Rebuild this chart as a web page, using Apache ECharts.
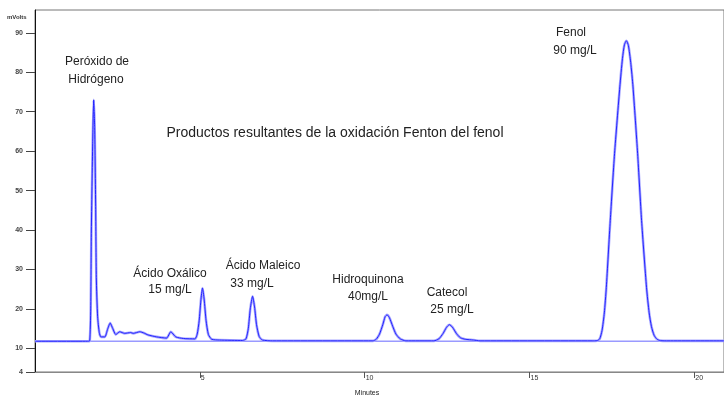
<!DOCTYPE html>
<html>
<head>
<meta charset="utf-8">
<script src="https://cdn.jsdelivr.net/npm/echarts@6/dist/echarts.min.js"></script>
<style>
html,body{margin:0;padding:0;background:#fff;}
#c{width:724px;height:396px;}
</style>
</head>
<body>
<div id="c"></div>
<script>
// Retention time (minutes)
var times = [
  0, 1.60, 1.66, 1.69, 1.71, 1.75, 1.78, 1.81, 1.84, 1.86, 1.90, 1.95, 2.00, 2.12,
  2.20, 2.28, 2.36, 2.45, 2.57, 2.72, 2.90, 2.98, 3.18, 3.30, 3.43, 3.69, 3.99,
  4.12, 4.27, 4.50, 4.85, 4.92, 4.98, 5.03, 5.08, 5.13, 5.19, 5.26, 5.36, 5.60,
  6.30, 6.40, 6.47, 6.53, 6.60, 6.66, 6.72, 6.80, 6.90, 7.20,
  10.25, 10.35, 10.45, 10.55, 10.62, 10.68, 10.75, 10.85, 10.95, 11.08, 11.25,
  12.10, 12.25, 12.38, 12.48, 12.57, 12.66, 12.78, 12.90, 13.05, 13.30, 13.50,
  16.90, 17.05, 17.13, 17.20, 17.27, 17.33, 17.45, 17.58, 17.74, 17.82, 17.88,
  17.94, 18.00, 18.07, 18.14, 18.28, 18.40, 18.55, 18.63, 18.70, 18.78, 18.87,
  18.97, 19.20, 20.90
];
// Detector signal (mVolts)
var signal = [
  11.8, 11.8, 11.9, 20, 40, 62, 73, 66, 46, 28, 18, 14, 12.9, 12.9,
  14.8, 16.4, 15.0, 13.5, 14.2, 13.8, 14.0, 13.8, 14.2, 13.9, 13.4, 12.9, 12.6,
  14.2, 12.9, 12.5, 12.4, 13.6, 17, 22, 25.3, 22.5, 17, 13.5, 12.3, 12.1,
  12.0, 12.4, 15, 20, 23.2, 20.5, 16, 13, 12.1, 11.9,
  11.9, 12.3, 13.6, 16, 18, 18.5, 17.8, 15.6, 13.6, 12.4, 11.9,
  11.9, 12.4, 13.8, 15.3, 16.0, 15.4, 13.8, 12.7, 12.3, 12.1, 11.9,
  11.9, 11.95, 12.4, 14.5, 19, 25.4, 42.4, 59.4, 76.3, 83.5, 87,
  88, 86.8, 82.5, 76.3, 59.4, 42.4, 25.4, 19, 15.5, 13.3, 12.3,
  11.95, 11.9, 11.9
];
var baselineTimes = [0, 20.9];
var baselineValues = [11.8, 11.8];
var yTickValues = [4, 10, 20, 30, 40, 50, 60, 70, 80, 90];
var xTickValues = [5, 10, 15, 20];

var pts = times.map(function (t, i) { return [t, signal[i]]; });
var basePts = baselineTimes.map(function (t, i) { return [t, baselineValues[i]]; });

var chart = echarts.init(document.getElementById('c'), null, {renderer: 'canvas'});
var txt = {fill: '#222', textAlign: 'center', textVerticalAlign: 'middle'};
function label(x, y, s, size) {
  return {type: 'text', x: x, y: y, style: Object.assign({}, txt, {text: s, font: (size || 12) + 'px "Liberation Sans", Arial, sans-serif'})};
}
chart.setOption({
  animation: false,
  backgroundColor: '#fff',
  grid: {left: 35, right: 0, top: 10, bottom: 24, show: true, borderColor: '#777', borderWidth: 1},
  xAxis: {
    type: 'value', min: 0, max: 20.9,
    axisLine: {show: true, onZero: false, lineStyle: {color: '#888', width: 1}},
    axisTick: {show: true, customValues: xTickValues, length: 6, lineStyle: {color: '#555'}},
    axisLabel: {customValues: xTickValues, fontSize: 7, color: '#333', align: 'left', margin: 3, padding: [0, 0, 0, 1], fontFamily: 'Liberation Sans'},
    splitLine: {show: false}
  },
  yAxis: {
    type: 'value', min: 4, max: 95.8,
    axisLine: {show: true, onZero: false, lineStyle: {color: '#111', width: 1}},
    axisTick: {show: true, customValues: yTickValues, length: 9, lineStyle: {color: '#444'}},
    axisLabel: {customValues: yTickValues, fontSize: 7, fontWeight: 'bold', color: '#444', margin: 12, fontFamily: 'Liberation Sans'},
    splitLine: {show: false}
  },
  series: [
    {type: 'line', data: basePts, symbol: 'none', silent: true,
     lineStyle: {color: '#9a9aff', width: 1.5}},
    {type: 'line', data: pts, symbol: 'none', silent: true, smooth: 0.2,
     lineStyle: {color: '#a8a8ff', width: 2.6}},
    {type: 'line', data: pts, symbol: 'none', silent: true, smooth: 0.2,
     lineStyle: {color: '#2323ff', width: 1}}
  ],
  graphic: [
    {type: 'text', x: 7, y: 17, style: {text: 'mVolts', fill: '#333', font: 'bold 6px "Liberation Sans", Arial, sans-serif', textVerticalAlign: 'middle'}},
    {type: 'text', x: 367, y: 393, style: {text: 'Minutes', fill: '#222', font: '7px "Liberation Sans", Arial, sans-serif', textAlign: 'center', textVerticalAlign: 'middle'}},
    label(97, 62, 'Peróxido de'),
    label(96, 80, 'Hidrógeno'),
    label(335, 133, 'Productos resultantes de la oxidación Fenton del fenol', 14),
    label(170, 274, 'Ácido Oxálico'),
    label(170, 290, '15 mg/L'),
    label(263, 266, 'Ácido Maleico'),
    label(252, 284, '33 mg/L'),
    label(368, 280, 'Hidroquinona'),
    label(368, 297, '40mg/L'),
    label(447, 293, 'Catecol'),
    label(452, 310, '25 mg/L'),
    label(571, 33, 'Fenol'),
    label(575, 51, '90 mg/L')
  ]
});
</script>
</body>
</html>
